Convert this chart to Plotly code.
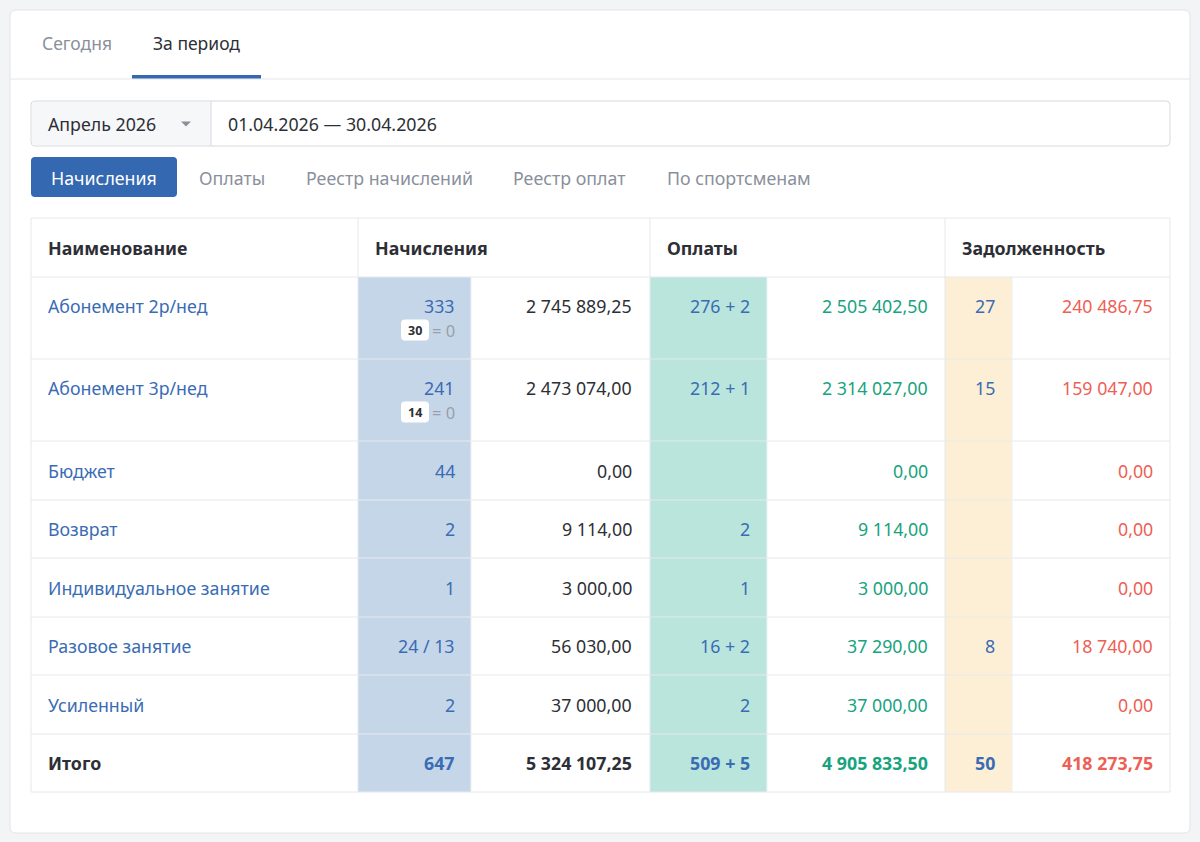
import plotly.graph_objects as go

# table data
names = ["Абонемент 2р/нед", "Абонемент 3р/нед", "Бюджет", "Возврат",
         "Индивидуальное занятие", "Разовое занятие", "Усиленный", "Итого"]
charge_counts = [333, 241, 44, 2, 1, 24, 2, 647]
charge_extra = [None, None, None, None, None, 13, None, None]
charge_badges = [30, 14, None, None, None, None, None, None]
charge_sums = [2745889.25, 2473074.00, 0.00, 9114.00, 3000.00, 56030.00, 37000.00, 5324107.25]
pay_counts = [276, 212, None, 2, 1, 16, 2, 509]
pay_extra = [2, 1, None, None, None, 2, None, 5]
pay_sums = [2505402.50, 2314027.00, 0.00, 9114.00, 3000.00, 37290.00, 37000.00, 4905833.50]
debt_counts = [27, 15, None, None, None, 8, None, 50]
debt_sums = [240486.75, 159047.00, 0.00, 0.00, 0.00, 18740.00, 0.00, 418273.75]

headers = ["Наименование", "Начисления", "Оплаты", "Задолженность"]
top_tabs = ["Сегодня", "За период"]
sub_tabs = ["Начисления", "Оплаты", "Реестр начислений", "Реестр оплат", "По спортсменам"]
month_label = "Апрель 2026"
period_label = "01.04.2026 — 30.04.2026"

FONT = "Noto Sans"
FS = 17.8
DARK = "#2e2f36"
GRAY = "#8a909b"
LINK = "#3a6cb4"
GREEN = "#17a37e"
RED = "#ee5f55"
LINE = "#e6e8ec"

W, H = 1200, 842
cols = [31, 358, 471, 650, 767, 945, 1012, 1170]
rows = [218, 277, 359, 441, 500, 558, 617, 675, 734, 792]
shade = {1: "#c6d6e9", 3: "#b9e5dc", 5: "#fdefd6"}


def money(v):
    s = f"{v:,.2f}".replace(",", " ").replace(".", ",")
    return s


def rrect(x0, y0, x1, y1, r):
    return (f"M{x0+r},{y0} L{x1-r},{y0} Q{x1},{y0} {x1},{y0+r} "
            f"L{x1},{y1-r} Q{x1},{y1} {x1-r},{y1} L{x0+r},{y1} "
            f"Q{x0},{y1} {x0},{y1-r} L{x0},{y0+r} Q{x0},{y0} {x0+r},{y0} Z")


shapes = []
annots = []


def text(x, y, s, color=DARK, size=FS, anchor="left", bold=False):
    annots.append(dict(x=x, y=y, text=f"<b>{s}</b>" if bold else s,
                       xanchor=anchor, yanchor="middle", showarrow=False,
                       borderpad=0, font=dict(family=FONT, size=size, color=color)))


def line(x0, y0, x1, y1, color=LINE, w=1):
    shapes.append(dict(type="line", x0=x0, y0=y0, x1=x1, y1=y1,
                       line=dict(color=color, width=w), layer="above"))


# card
shapes.append(dict(type="path", path=rrect(10, 10, 1190, 833, 6),
                   fillcolor="white", line=dict(color="#e2e4e8", width=1), layer="below"))

# top tabs
text(41, 43, top_tabs[0], GRAY, size=17.5)
text(152, 43, top_tabs[1], DARK, size=17.5)
line(10, 79, 1190, 79, "#e4e6ea")
shapes.append(dict(type="rect", x0=132, x1=261, y0=75, y1=78.5,
                   fillcolor="#3468b1", line=dict(width=0), layer="above"))

# period selector
shapes.append(dict(type="path", path=rrect(31, 101, 1170, 146, 4),
                   fillcolor="white", line=dict(color="#d6d9df", width=1)))
shapes.append(dict(type="path", path="M32,102 L211,102 L211,145 L32,145 Z",
                   fillcolor="#f6f7f9", line=dict(width=0)))
line(211, 101, 211, 146, "#d6d9df")
shapes.append(dict(type="path", path="M181,121.5 L191,121.5 L186,126.5 Z",
                   fillcolor="#8a909b", line=dict(width=0), layer="above"))
text(47, 124, month_label, DARK)
text(227, 124, period_label, DARK)

# sub tabs
shapes.append(dict(type="path", path=rrect(31, 157, 177, 197, 4),
                   fillcolor="#3468b1", line=dict(width=0)))
text(104, 178, sub_tabs[0], "white", anchor="center")
for label, x in zip(sub_tabs[1:], [198, 305, 512, 666]):
    text(x, 178, label, GRAY)

# table shading
for i in range(len(names)):
    for c, col in shade.items():
        shapes.append(dict(type="rect", x0=cols[c], x1=cols[c + 1],
                           y0=rows[i + 1], y1=rows[i + 2],
                           fillcolor=col, line=dict(width=0), layer="below"))

# table grid
for y in rows:
    line(cols[0], y, cols[-1], y)
line(cols[0], rows[0], cols[0], rows[-1])
line(cols[-1], rows[0], cols[-1], rows[-1])
for c in [1, 3, 5]:
    line(cols[c], rows[0], cols[c], rows[-1])
for c in [2, 4, 6]:
    line(cols[c], rows[1], cols[c], rows[-1], "#eef0f3")

# header
hy = (rows[0] + rows[1]) / 2
for h, c in zip(headers, [0, 1, 3, 5]):
    text(cols[c] + 16, hy, h, DARK, bold=True)

# body
for i, name in enumerate(names):
    top, bot = rows[i + 1], rows[i + 2]
    total = i == len(names) - 1
    y = top + 29 if charge_badges[i] is not None else (top + bot) / 2
    text(cols[0] + 16, y, name, DARK if total else LINK, bold=total)

    cc = str(charge_counts[i])
    if charge_extra[i] is not None:
        cc += f" / {charge_extra[i]}"
    text(cols[2] - 15, y, cc, LINK, anchor="right", bold=total)
    if charge_badges[i] is not None:
        by = top + 53
        shapes.append(dict(type="path", path=rrect(401, by - 10.5, 429, by + 10.5, 4),
                           fillcolor="white", line=dict(width=0), layer="above"))
        text(415, by, str(charge_badges[i]), DARK, size=12.5, anchor="center", bold=True)
        text(cols[2] - 15, by, "= 0", "#9a9ea6", size=16.5, anchor="right")
    text(cols[3] - 17, y, money(charge_sums[i]), DARK, anchor="right", bold=total)

    if pay_counts[i] is not None:
        pc = str(pay_counts[i])
        if pay_extra[i] is not None:
            pc += f" + {pay_extra[i]}"
        text(cols[4] - 16, y, pc, LINK, anchor="right", bold=total)
    text(cols[5] - 16, y, money(pay_sums[i]), GREEN, anchor="right", bold=total)

    if debt_counts[i] is not None:
        text(cols[6] - 16, y, str(debt_counts[i]), LINK, anchor="right", bold=total)
    text(cols[7] - 16, y, money(debt_sums[i]), RED, anchor="right", bold=total)

fig = go.Figure()
fig.update_layout(
    width=W, height=H,
    margin=dict(l=0, r=0, t=0, b=0),
    paper_bgcolor="#f3f4f6", plot_bgcolor="#f3f4f6",
    xaxis=dict(range=[0, W], visible=False, fixedrange=True),
    yaxis=dict(range=[H, 0], visible=False, fixedrange=True),
    shapes=shapes, annotations=annots, showlegend=False,
)
fig.write_html("out.html", config={"displayModeBar": False},
               post_script="document.body.style.margin='0';")
